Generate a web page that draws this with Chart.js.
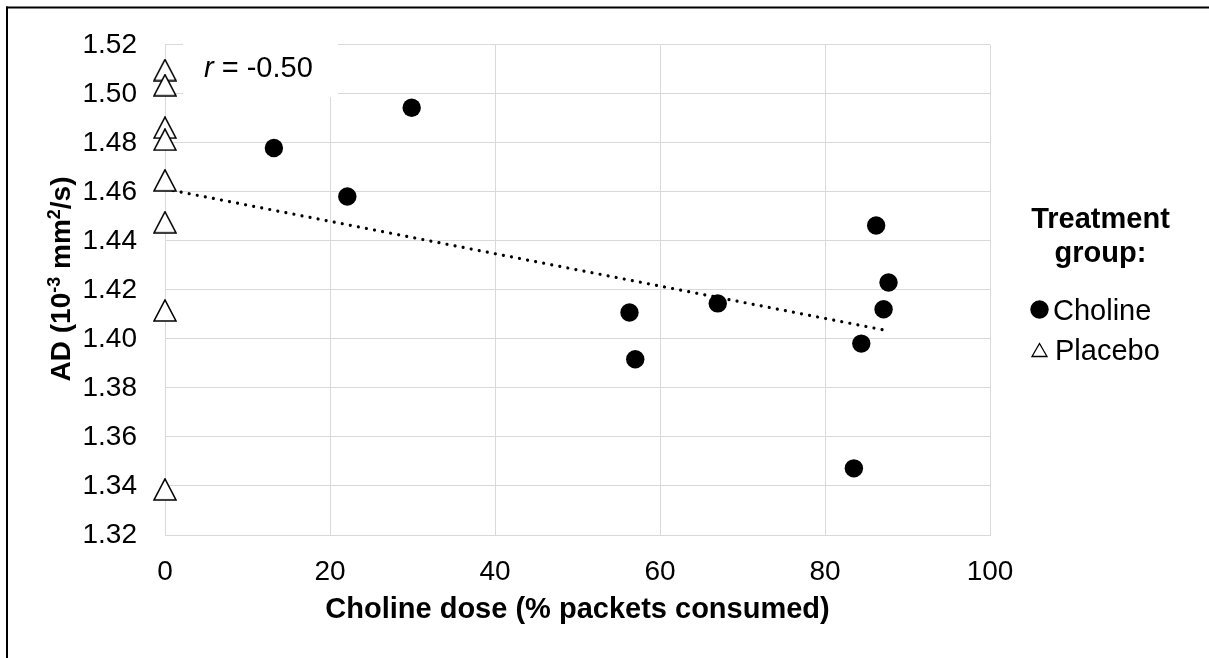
<!DOCTYPE html>
<html>
<head>
<meta charset="utf-8">
<script src="https://cdn.jsdelivr.net/npm/chart.js@4.4.1/dist/chart.umd.min.js"></script>
<style>
html,body{margin:0;padding:0;background:#fff;}
#wrap{width:1209px;height:658px;position:relative;overflow:hidden;}
canvas{display:block;}
</style>
</head>
<body>
<div id="wrap"><canvas id="c" width="1209" height="658"></canvas></div>
<script>
// ---- data ----
const cholineDose = [13.2, 22.1, 29.9, 56.3, 57.0, 67.0, 86.2, 87.7, 87.1, 84.4, 83.5];
const cholineAD   = [1.4779, 1.4581, 1.4943, 1.4108, 1.3917, 1.4145, 1.4463, 1.4230, 1.4121, 1.3981, 1.3472];
const placeboDose = [0, 0, 0, 0, 0, 0, 0, 0];
const placeboAD   = [1.5097, 1.5035, 1.4862, 1.4813, 1.4647, 1.4476, 1.4116, 1.3386];
const seriesNames = ['Choline', 'Placebo'];
const xTicks = [0, 20, 40, 60, 80, 100];
const yTicks = [1.32, 1.34, 1.36, 1.38, 1.40, 1.42, 1.44, 1.46, 1.48, 1.50, 1.52];
const xTitle = 'Choline dose (% packets consumed)';
const yTitleParts = [['AD (10', false], ['-3', true], [' mm', false], ['2', true], ['/s)', false]];
const legendTitle = ['Treatment', 'group:'];
const corrSymbol = 'r';
const corrText = ' = -0.50';

// ---- linear trendline (least squares over all points) ----
const allX = cholineDose.concat(placeboDose);
const allY = cholineAD.concat(placeboAD);
const n = allX.length;
const mx = allX.reduce((a, b) => a + b, 0) / n;
const my = allY.reduce((a, b) => a + b, 0) / n;
let sxy = 0, sxx = 0;
for (let i = 0; i < n; i++) { sxy += (allX[i] - mx) * (allY[i] - my); sxx += (allX[i] - mx) ** 2; }
const slope = sxy / sxx;
const intercept = my - slope * mx;
const xMinData = Math.min(...allX), xMaxData = Math.max(...allX);
const trendData = [
  { x: xMinData, y: intercept + slope * xMinData },
  { x: xMaxData, y: intercept + slope * xMaxData }
];

const FONT = '"Liberation Sans", Arial, Helvetica, sans-serif';

// triangle marker (open, white fill)
function makeTriangle(w, h, lw) {
  const c = document.createElement('canvas');
  c.width = w + 2; c.height = h + 2;
  const g = c.getContext('2d');
  g.beginPath();
  g.moveTo(1, h + 1);
  g.lineTo(w + 1, h + 1);
  g.lineTo(1 + w / 2, 1);
  g.closePath();
  g.fillStyle = '#fff';
  g.fill();
  g.lineWidth = lw;
  g.strokeStyle = '#000';
  g.lineJoin = 'miter';
  g.stroke();
  return c;
}
const triMarker = makeTriangle(22, 21, 1.6);

const decor = {
  id: 'decor',
  beforeDatasetsDraw(chart) {
    const ctx = chart.ctx;
    ctx.save();
    // white label box over the grid
    ctx.fillStyle = '#fff';
    ctx.fillRect(183, 40, 155, 57);
    ctx.fillStyle = '#000';
    ctx.textBaseline = 'alphabetic';
    ctx.textAlign = 'left';
    ctx.font = 'italic 29px ' + FONT;
    ctx.fillText(corrSymbol, 204, 77);
    const w = ctx.measureText(corrSymbol).width;
    ctx.font = '29px ' + FONT;
    ctx.fillText(corrText, 204 + w, 77);
    ctx.restore();
  },
  afterDraw(chart) {
    const ctx = chart.ctx;
    const area = chart.chartArea;
    ctx.save();
    ctx.fillStyle = '#000';
    // x title
    ctx.font = 'bold 29px ' + FONT;
    ctx.textAlign = 'center';
    ctx.textBaseline = 'alphabetic';
    ctx.fillText(xTitle, (area.left + area.right) / 2, 618);

    // y title (rotated, with superscripts)
    const size = 28, supSize = 18;
    let total = 0;
    yTitleParts.forEach(([t, sup]) => {
      ctx.font = 'bold ' + (sup ? supSize : size) + 'px ' + FONT;
      total += ctx.measureText(t).width;
    });
    ctx.translate(70, 279);
    ctx.rotate(-Math.PI / 2);
    ctx.textAlign = 'left';
    let x = -total / 2;
    yTitleParts.forEach(([t, sup]) => {
      ctx.font = 'bold ' + (sup ? supSize : size) + 'px ' + FONT;
      ctx.fillText(t, x, sup ? -10 : 0);
      x += ctx.measureText(t).width;
    });
    ctx.setTransform(1, 0, 0, 1, 0, 0);

    // legend
    ctx.textAlign = 'center';
    ctx.font = 'bold 29px ' + FONT;
    ctx.fillText(legendTitle[0], 1100.5, 228);
    ctx.fillText(legendTitle[1], 1100.5, 262);
    ctx.textAlign = 'left';
    ctx.font = '29px ' + FONT;
    const ds = chart.data.datasets;
    // Choline
    ctx.beginPath();
    ctx.arc(1039.5, 309.5, 9.2, 0, Math.PI * 2);
    ctx.fillStyle = ds[0].backgroundColor;
    ctx.fill();
    ctx.fillStyle = '#000';
    ctx.fillText(ds[0].label, 1053, 320);
    // Placebo
    const tw = 15, th = 13, cx = 1039.5, cy = 350;
    ctx.beginPath();
    ctx.moveTo(cx - tw / 2, cy + th / 2);
    ctx.lineTo(cx + tw / 2, cy + th / 2);
    ctx.lineTo(cx, cy - th / 2);
    ctx.closePath();
    ctx.fillStyle = '#fff';
    ctx.fill();
    ctx.lineWidth = 1.3;
    ctx.strokeStyle = '#000';
    ctx.stroke();
    ctx.fillStyle = '#000';
    ctx.fillText(ds[1].label, 1055, 360);

    // outer frame (top and left edges visible)
    ctx.fillRect(6, 6.5, 1209, 2);
    ctx.fillRect(6, 6.5, 2, 658);
    ctx.restore();
  }
};

Chart.defaults.font.family = FONT;
Chart.defaults.color = '#000';

new Chart(document.getElementById('c'), {
  type: 'scatter',
  data: {
    datasets: [
      {
        label: seriesNames[0],
        data: cholineDose.map((x, i) => ({ x, y: cholineAD[i] })),
        pointStyle: 'circle',
        pointRadius: 9.2,
        backgroundColor: '#000',
        borderColor: '#000',
        borderWidth: 0,
        clip: false,
        order: 1
      },
      {
        label: seriesNames[1],
        data: placeboDose.map((x, i) => ({ x, y: placeboAD[i] })),
        pointStyle: triMarker,
        pointRadius: 11,
        backgroundColor: '#fff',
        borderColor: '#000',
        clip: false,
        order: 2
      },
      {
        label: 'Linear trend',
        data: trendData,
        showLine: true,
        borderColor: '#000',
        borderWidth: 3.2,
        borderDash: [0.01, 8.2],
        borderCapStyle: 'round',
        pointRadius: 0,
        fill: false,
        clip: false,
        order: 3
      }
    ]
  },
  options: {
    responsive: false,
    animation: false,
    devicePixelRatio: 1,
    events: [],
    layout: { autoPadding: false, padding: { left: 0, top: 38, right: 219, bottom: 0 } },
    plugins: { legend: { display: false }, tooltip: { enabled: false } },
    scales: {
      x: {
        type: 'linear',
        min: 0, max: 100,
        afterBuildTicks: s => { s.ticks = xTicks.map(v => ({ value: v })); },
        afterFit: s => { s.height = 123; },
        ticks: { font: { size: 28 }, color: '#000', padding: 20, maxRotation: 0, callback: v => String(v) },
        grid: { color: '#d9d9d9', lineWidth: 1, drawTicks: false },
        border: { color: '#d9d9d9', width: 1 }
      },
      y: {
        type: 'linear',
        min: 1.32, max: 1.52,
        afterBuildTicks: s => { s.ticks = yTicks.map(v => ({ value: v })); },
        afterFit: s => { s.width = 165; },
        ticks: { font: { size: 28 }, color: '#000', padding: 28, callback: v => Number(v).toFixed(2) },
        grid: { color: '#d9d9d9', lineWidth: 1, drawTicks: false },
        border: { color: '#d9d9d9', width: 1 }
      }
    }
  },
  plugins: [decor]
});
</script>
</body>
</html>
